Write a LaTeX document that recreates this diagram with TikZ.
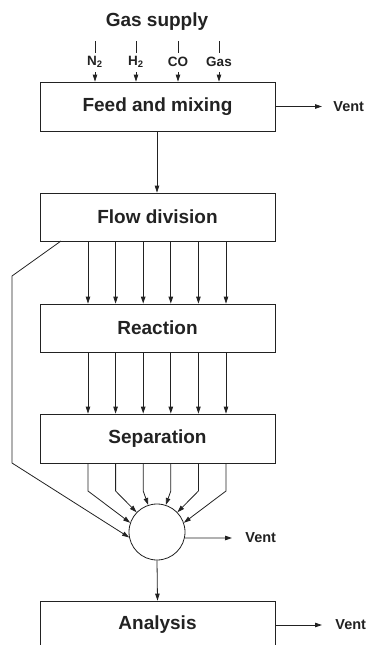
\documentclass[tikz,border=0pt]{standalone}
\usepackage{fontspec}
\setmainfont{Liberation Sans}
\usetikzlibrary{arrows.meta}
\definecolor{ink}{HTML}{222222}
\begin{document}
\begin{tikzpicture}[x=1pt,y=-1pt, draw=ink, line width=0.8pt,
  box/.style={draw=ink, rectangle, minimum width=235pt, minimum height=48pt,
    inner sep=0pt, text=ink, font=\fontsize{19}{22}\selectfont\bfseries},
  gaslabel/.style={inner sep=1pt, text=ink, font=\fontsize{13.5}{15}\selectfont\bfseries},
  ventlabel/.style={anchor=west, inner sep=0pt, text=ink, font=\fontsize{14.5}{16}\selectfont\bfseries},
  flow/.style={draw=ink, -{Triangle[length=7pt,width=4.5pt]}}]
\useasboundingbox (0,0) rectangle (368,645);
\clip (0,0) rectangle (368,645);

% title and gas inlets
\node[text=ink, font=\fontsize{19}{22}\selectfont\bfseries] (title) at (157,22) {Gas supply};
\node[box, minimum height=49pt] (feed) at (157.5,106.5) {Feed and mixing};
\foreach \name/\x/\txt in {n2/95/N\textsubscript{2}, h2/136/H\textsubscript{2}, co/178/CO, gas/219/Gas}{
  \node[gaslabel] (\name) at (\x,62) {\txt};
  \coordinate (\name top) at (\x,41);
  \coordinate (\name mid) at (\x,53);
  \coordinate (\name low) at (\x,72);
  \draw[draw=ink] (\name top) -- (\name mid);
  \draw[flow] (\name low) -- (\name low |- feed.north);
}

% vent from feed box
\coordinate (vent1end) at (322,106.5);
\node[ventlabel] (vent1) at (333,106.5) {Vent};
\draw[flow] (feed.east) -- (vent1end);

% main column
\node[box] (flowdiv) at (157.5,217) {Flow division};
\node[box] (react) at (157.5,328) {Reaction};
\node[box, minimum height=49pt] (sep) at (157.5,438.5) {Separation};
\node[draw=ink, circle, minimum size=56pt, inner sep=0pt] (mix) at (157,532) {};
\node[box] (ana) at (157.5,625) {Analysis};

\draw[flow] (feed.south -| 157,0) -- (flowdiv.north -| 157,0);

% parallel lines
\foreach \x in {88,115.6,143.2,170.8,198.4,226}{
  \draw[flow] (flowdiv.south -| \x,0) -- (react.north -| \x,0);
  \draw[flow] (react.south -| \x,0) -- (sep.north -| \x,0);
}

% separation outlets into the collector
\foreach \x/\a in {88/161,115.6/136,143.2/108,170.8/72,198.4/44,226/19}{
  \coordinate (bend\a) at (\x,491);
  \draw[flow] (sep.south -| \x,0) -- (bend\a) -- (mix.\a);
}

% bypass line
\coordinate (bp0) at (61,241);
\coordinate (bp1) at (12,276);
\coordinate (bp2) at (12,463);
\draw[flow] (bp0) -- (bp1) -- (bp2) -- (mix.191);

% vent from collector
\coordinate (vent2end) at (232,538);
\node[ventlabel] (vent2) at (245,538) {Vent};
\draw[flow] (mix.-12) -- (vent2end);

\draw[flow] (mix.south) -- (ana.north);

% vent from analysis
\coordinate (vent3end) at (322,625);
\node[ventlabel] (vent3) at (335,625) {Vent};
\draw[flow] (ana.east) -- (vent3end);
\end{tikzpicture}
\end{document}
